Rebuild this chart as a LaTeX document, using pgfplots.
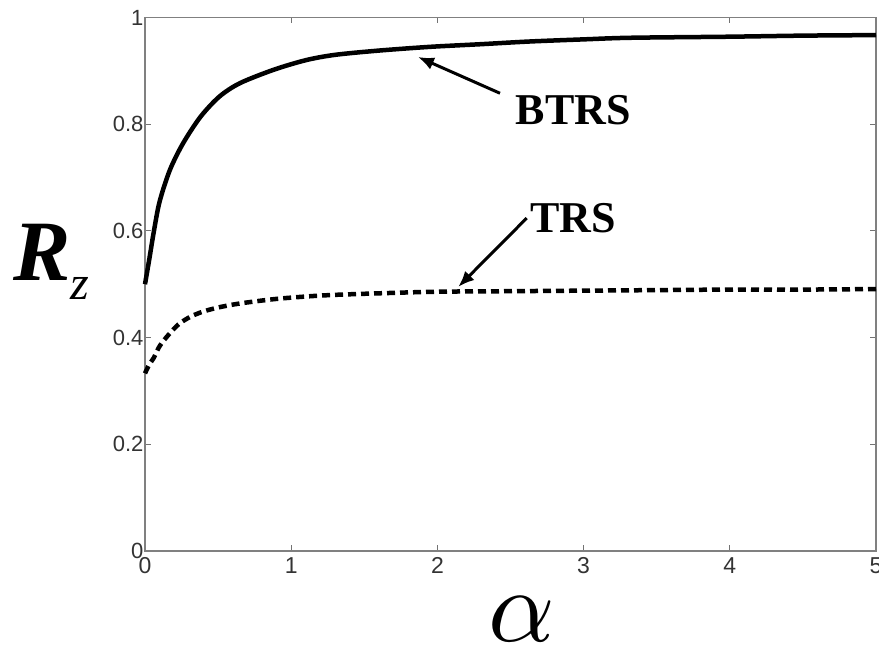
\documentclass[border=0pt]{standalone}
\usepackage{fontspec}
\setmainfont{Liberation Serif}
\newfontfamily\tickfont{Liberation Sans}
\usepackage{pgfplots}
\pgfplotsset{compat=1.18}
\usetikzlibrary{arrows.meta}
\begin{document}
\begin{tikzpicture}
\path[use as bounding box] (-145bp,-99bp) rectangle (734bp,551bp);
\begin{axis}[
  at={(0,0)}, anchor=south west,
  scale only axis, width=731bp, height=533.5bp,
  xmin=0, xmax=5, ymin=0, ymax=1,
  xtick={0,1,2,3,4,5}, ytick={0,0.2,0.4,0.6,0.8,1},
  tick align=inside, major tick length=6bp,
  axis line style={black!50, line width=1.2bp},
  tick style={black!55, line width=1bp},
  /pgf/number format/assume math mode=true,
  xticklabel style={font=\tickfont\fontsize{23bp}{23bp}\selectfont, text=black!80, yshift=-3bp},
  yticklabel style={font=\tickfont\fontsize{22bp}{22bp}\selectfont, text=black!80, xshift=2bp},
  clip=false,
]
\addplot[black, line width=4.5bp, smooth] coordinates {
(0,0.500) (0.03,0.548) (0.06,0.598) (0.10,0.655) (0.17,0.714) (0.26,0.764)
(0.38,0.814) (0.51,0.852) (0.65,0.877) (0.88,0.902) (1.10,0.920) (1.30,0.930)
(1.60,0.938) (1.95,0.945) (2.30,0.950) (2.63,0.955) (3.00,0.959) (3.32,0.962)
(4.00,0.964) (4.50,0.966) (5.00,0.967)};
\addplot[black, line width=4.5bp, smooth, dash pattern=on 8bp off 5bp] coordinates {
(0,0.333) (0.03,0.350) (0.06,0.362) (0.10,0.384) (0.16,0.405) (0.23,0.425)
(0.31,0.439) (0.40,0.449) (0.51,0.457) (0.65,0.464) (0.88,0.472) (1.10,0.477)
(1.29,0.480) (1.60,0.483) (2.00,0.486) (2.50,0.487) (3.00,0.488) (3.50,0.489)
(4.00,0.490) (4.50,0.490) (5.00,0.491)};
\draw[black, line width=3bp, -{Latex[length=16bp,width=13bp]}] (axis cs:2.428,0.858) -- (axis cs:1.867,0.926);
\draw[black, line width=3bp, -{Latex[length=16bp,width=13bp]}] (axis cs:2.611,0.624) -- (axis cs:2.143,0.495);
\node[font=\bfseries\fontsize{44bp}{44bp}\selectfont, inner sep=0pt] at (axis cs:2.93,0.826) {BTRS};
\node[font=\bfseries\fontsize{44bp}{44bp}\selectfont, inner sep=0pt] at (axis cs:2.93,0.624) {TRS};
\end{axis}
\node[anchor=base west, inner sep=0pt, font=\fontsize{86bp}{86bp}\selectfont] at (-132bp,270bp) {\textbf{\textit{R}}\raisebox{-19bp}{\fontsize{48bp}{48bp}\selectfont\textit{z}}};
\node[anchor=base, inner sep=0pt, scale=10.4, font=\fontsize{10bp}{10bp}\selectfont] at (377bp,-90bp) {$\alpha$};
\end{tikzpicture}
\end{document}
